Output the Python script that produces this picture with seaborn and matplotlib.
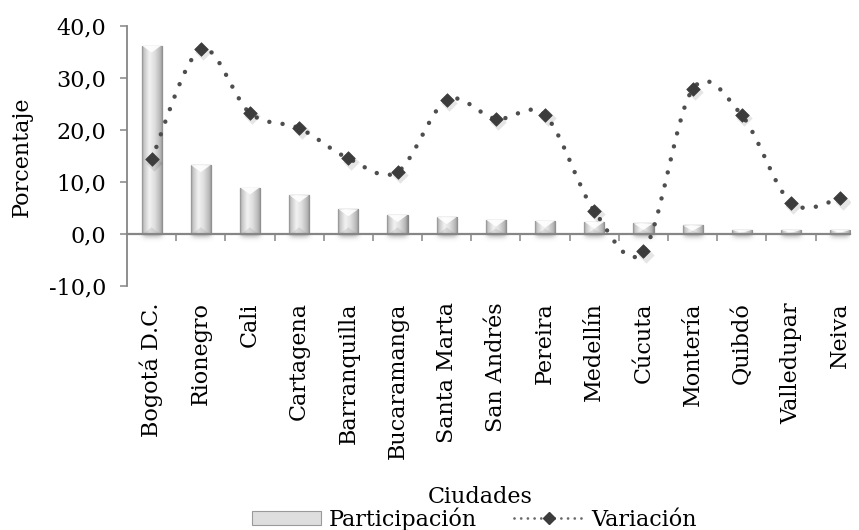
import numpy as np
import pandas as pd
import matplotlib
matplotlib.use("Agg")
import matplotlib.pyplot as plt
import seaborn as sns
from matplotlib.path import Path
from matplotlib.patches import PathPatch, Polygon, Patch
from matplotlib.lines import Line2D
from matplotlib.colors import LinearSegmentedColormap
from matplotlib.ticker import FuncFormatter

# ---- data -----------------------------------------------------------------
cities = ["Bogotá D.C.", "Rionegro", "Cali", "Cartagena", "Barranquilla",
          "Bucaramanga", "Santa Marta", "San Andrés", "Pereira", "Medellín",
          "Cúcuta", "Montería", "Quibdó", "Valledupar", "Neiva"]
participacion = [36.3, 13.3, 9.0, 7.5, 4.8, 3.7, 3.3, 2.8, 2.6, 2.4,
                 2.1, 1.7, 0.8, 0.8, 0.8]
variacion = [14.4, 35.6, 23.3, 20.4, 14.6, 12.0, 25.8, 22.2, 22.9, 4.5,
             -3.3, 27.9, 22.9, 6.1, 6.9]
y_ticks = [-10, 0, 10, 20, 30, 40]

df = pd.DataFrame({"Ciudad": cities, "Participación": participacion,
                   "Variación": variacion})

# ---- style ----------------------------------------------------------------
sns.set_style("white")
plt.rcParams["font.family"] = ["DejaVu Serif"]
plt.rcParams["text.color"] = "black"
plt.rcParams["axes.labelcolor"] = "black"
FS = 16
AXIS_GREY = "#868686"
LINE_GREY = "#4e4e4e"
MARK_GREY = "#3c3c3c"

fig = plt.figure(figsize=(8.59, 5.30), dpi=100)
W, H = 859, 530
ax = fig.add_axes([127 / W, 1 - 286.3 / H, 723 / W, 260 / H])

# ---- bars -----------------------------------------------------------------
sns.barplot(data=df, x="Ciudad", y="Participación", color="#dcdcdc",
            width=0.41, errorbar=None, edgecolor="#858585", linewidth=0.9,
            ax=ax, zorder=2)

cyl = LinearSegmentedColormap.from_list(
    "cyl", [(0.0, "#8a8a8a"), (0.07, "#c2c2c2"), (0.35, "#f2f2f2"),
            (0.62, "#dedede"), (0.9, "#b4b4b4"), (1.0, "#888888")])
grad = np.linspace(0, 1, 64)[None, :]
px_per_unit = 260 / 50.0
bevel = 7 / px_per_unit

bars = list(ax.patches)
for bar in bars:
    x0, w, h = bar.get_x(), bar.get_width(), bar.get_height()
    im = ax.imshow(grad, cmap=cyl, extent=[x0, x0 + w, 0, h], aspect="auto",
                   interpolation="bicubic", zorder=2.1)
    im.set_clip_path(bar)
    d = min(bevel, h * 0.6)
    # white pyramid facet on top
    ax.add_patch(Polygon([(x0 + 0.02 * w, h), (x0 + 0.98 * w, h),
                          (x0 + w / 2, h - d)], closed=True,
                         facecolor="white", edgecolor="none", alpha=0.9,
                         zorder=2.2))
    # slightly darker facet at the base
    ax.add_patch(Polygon([(x0 + 0.05 * w, 0), (x0 + 0.95 * w, 0),
                          (x0 + w / 2, min(bevel, h * 0.4))], closed=True,
                         facecolor="#9a9a9a", edgecolor="none", alpha=0.25,
                         zorder=2.2))
    # soft shadow under the bar
    yy = np.linspace(0, 1, 32)[:, None]
    xx = np.linspace(-1, 1, 32)[None, :]
    alpha = np.exp(-(yy * 2.2) ** 2) * np.exp(-(xx * 1.3) ** 4) * 0.45
    rgba = np.zeros((32, 32, 4))
    rgba[..., :3] = 0.45
    rgba[..., 3] = alpha
    ax.imshow(rgba, extent=[x0 - 0.06, x0 + w + 0.06, -1.6, 0],
              origin="upper", aspect="auto", interpolation="bicubic",
              zorder=1.5)


# ---- smoothed line --------------------------------------------------------
def smooth_path(xs, ys):
    pts = np.column_stack([xs, ys]).astype(float)
    n = len(pts)
    verts, codes = [pts[0]], [Path.MOVETO]
    for i in range(n - 1):
        p0 = pts[i - 1] if i > 0 else pts[i]
        p1, p2 = pts[i], pts[i + 1]
        p3 = pts[i + 2] if i + 2 < n else pts[i + 1]
        verts += [p1 + (p2 - p0) / 6, p2 - (p3 - p1) / 6, p2]
        codes += [Path.CURVE4] * 3
    return Path(verts, codes)


xpos = np.arange(len(cities))
dots = (0, (0.01, 3.0))
curve = PathPatch(smooth_path(xpos, variacion), fill=False,
                  edgecolor=LINE_GREY, linewidth=3.2, linestyle=dots,
                  capstyle="round", zorder=3)
ax.add_patch(curve)

# marker shadows, then markers
ax.scatter(xpos + 0.05, np.array(variacion) - 0.6, marker="D", s=70,
           color="#000000", alpha=0.10, linewidths=0, zorder=3.1)
sns.scatterplot(x=xpos, y=variacion, marker="D", s=48, color=MARK_GREY,
                edgecolor=MARK_GREY, linewidth=0.5, ax=ax, zorder=4,
                legend=False)

# ---- axes -----------------------------------------------------------------
ax.set_ylim(-10, 40)
ax.set_xlim(-0.5, 14.2)
ax.set_yticks(y_ticks)
ax.yaxis.set_major_formatter(FuncFormatter(lambda v, p: f"{v:.1f}".replace(".", ",")))
ax.tick_params(axis="y", direction="out", length=5, width=1.1,
               color=AXIS_GREY, labelcolor="black", labelsize=FS, pad=10,
               left=True)
ax.set_xticks(xpos)
ax.set_xticklabels(cities, rotation=90, fontsize=FS, va="top", ha="center")
ax.tick_params(axis="x", length=0, pad=11.5, labelcolor="black")

for s in ["top", "right", "bottom"]:
    ax.spines[s].set_visible(False)
ax.spines["left"].set_color(AXIS_GREY)
ax.spines["left"].set_linewidth(1.3)

# category axis crossing at zero, with ticks between categories
zero_loc = (0 - ax.get_ylim()[0]) / (ax.get_ylim()[1] - ax.get_ylim()[0])
sec = ax.secondary_xaxis(zero_loc)
sec.set_xticks(xpos[:-1] + 0.5)
sec.tick_params(axis="x", direction="out", length=5, width=1.1,
                color=AXIS_GREY, labelbottom=False)
sec.spines["bottom"].set_color(AXIS_GREY)
sec.spines["bottom"].set_linewidth(1.6)
sec.set_zorder(2.5)

ax.set_ylabel("Porcentaje", fontsize=FS, color="black")
ax.yaxis.set_label_coords((33 - 127) / 723, 0.5)
ax.set_xlabel("Ciudades", fontsize=FS, color="black")
ax.xaxis.set_label_coords((480 - 127) / 723, -(486 - 286.3) / 260)

# ---- legend ---------------------------------------------------------------
h_bar = Patch(facecolor="#dedede", edgecolor="#9a9a9a", linewidth=0.8)
h_line = Line2D([], [], color="#6a6a6a", linewidth=2.0,
                linestyle=(0, (0.01, 2.4)), dash_capstyle="round",
                marker="D", markersize=6.5,
                markerfacecolor=MARK_GREY, markeredgecolor=MARK_GREY)
leg = fig.legend([h_bar, h_line], ["Participación", "Variación"],
                 loc="center", bbox_to_anchor=(474 / W, 1 - 519 / H), ncol=2,
                 frameon=False, fontsize=FS, handlelength=3.1,
                 handleheight=0.55, handletextpad=0.35, columnspacing=1.7,
                 borderpad=0)
for t in leg.get_texts():
    t.set_color("black")

fig.savefig("out.png", dpi=100)
